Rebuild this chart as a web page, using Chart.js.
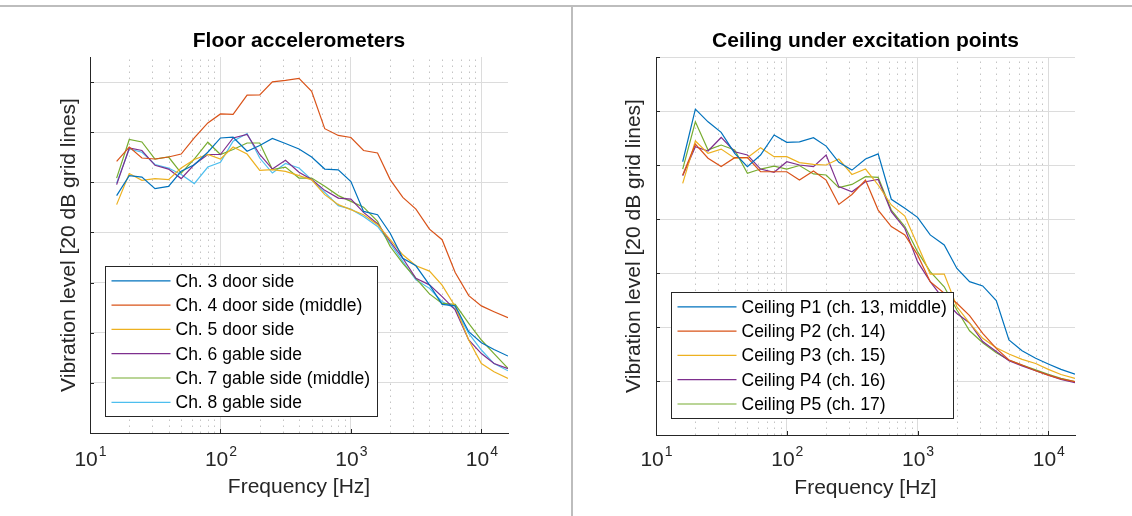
<!DOCTYPE html>
<html>
<head>
<meta charset="utf-8">
<script src="https://cdn.jsdelivr.net/npm/chart.js@4.4.1/dist/chart.umd.min.js"></script>
<style>
  body { margin: 0; background: #fff; }
  #page { position: relative; width: 1132px; height: 516px; overflow: hidden; background: #fff; }
  canvas { position: absolute; top: 0; }
  #floorChart { left: 0; }
  #ceilingChart { left: 573px; }
  .rule { position: absolute; background: #bdbdbd; }
</style>
</head>
<body>
<div id="page">
  <div class="rule" style="left:0;top:5px;width:1132px;height:2px"></div>
  <div class="rule" style="left:571px;top:5px;width:2px;height:511px"></div>
  <canvas id="floorChart" width="571" height="516"></canvas>
  <canvas id="ceilingChart" width="559" height="516"></canvas>
</div>
<script>
const FONT = "'Liberation Sans', Arial, Helvetica, sans-serif";
const AXIS_COLOR = '#262626';
const COLORS = ['#0072BD', '#D95319', '#EDB120', '#7E2F8E', '#77AC30', '#4DBEEE'];

// third-octave band centre frequencies [Hz]
const freqs = [16, 20, 25, 31.5, 40, 50, 63, 80, 100, 125, 160, 200, 250, 315, 400, 500,
    630, 800, 1000, 1250, 1600, 2000, 2500, 3150, 4000, 5000, 6300, 8000, 10000, 12500, 16000];
const decades = [10, 100, 1000, 10000];
const decadeExp = ['1', '2', '3', '4'];
const minorFreqs = [20, 30, 40, 50, 60, 70, 80, 90, 200, 300, 400, 500, 600, 700, 800, 900,
    2000, 3000, 4000, 5000, 6000, 7000, 8000, 9000];

// floor accelerometers, level in dB (relative, 20 dB per grid line)
const floorLabels = ['Ch. 3 door side', 'Ch. 4 door side (middle)', 'Ch. 5 door side',
    'Ch. 6 gable side', 'Ch. 7 gable side (middle)', 'Ch. 8 gable side'];
const floorCh3 = [94.7, 102.7, 102.1, 97.5, 98.4, 104.4, 107, 112, 117.7, 118, 112.4, 114.7, 117.5, 115.5, 113.3, 110.1,
    105.3, 105, 100.3, 88.4, 87.1, 79.7, 69.7, 66.7, 59.1, 51.3, 50.7, 40.4, 36, 33.3, 30.7];
const floorCh4 = [108.4, 114.1, 109.7, 109.3, 110.1, 111.3, 117.7, 123.7, 127.3, 127.1, 134.8, 134.9, 140.1, 140.7, 141.5, 136.3,
    121.4, 118.7, 117.9, 112.7, 111.7, 101.1, 94, 89.3, 81.3, 77.1, 64, 54.8, 50.7, 48.4, 46];
const floorCh5 = [91.1, 103.5, 100.8, 101.5, 101.1, 105.7, 109.1, 111.1, 109.3, 114.1, 111.3, 104.8, 105.1, 104.4, 102.7, 101,
    95.1, 91.1, 89.1, 87.1, 83.1, 77.1, 71.1, 66.7, 64.6, 59, 50.5, 37.1, 27.7, 24.4, 21.8];
const floorCh6 = [99.1, 113.7, 112.7, 106.8, 105.3, 101.5, 107.1, 111.1, 111.1, 117.7, 119.1, 111.1, 105.3, 108.8, 104, 101.1,
    96.8, 93.7, 93.3, 88, 83.5, 76.4, 69.7, 61.7, 59.1, 54.4, 49.1, 37.1, 31.7, 27.7, 25.7];
const floorCh7 = [101.7, 117.1, 116.1, 109.3, 110.1, 103.7, 109.3, 116, 111.1, 113.1, 115.7, 115.7, 105.1, 106.1, 101.7, 101.7,
    98.4, 94.7, 92.4, 90.1, 84.4, 74.4, 67.7, 61.7, 55.5, 51.7, 51.3, 43.7, 37.1, 31.7, 25.8];
const floorCh8 = [99.7, 113.3, 112, 107.1, 105.7, 103.1, 99.5, 106.1, 108, 116.4, 119.5, 109.7, 103.7, 107.5, 105.7, 101.1,
    96, 90.7, 89.3, 86.4, 82.4, 75.7, 68.4, 61.1, 57.7, 52.4, 49.7, 39.7, 33.1, 27.7, 24.8];

// ceiling under the excitation points
const ceilingLabels = ['Ceiling P1 (ch. 13, middle)', 'Ceiling P2 (ch. 14)', 'Ceiling P3 (ch. 15)',
    'Ceiling P4 (ch. 16)', 'Ceiling P5 (ch. 17)'];
const ceilP1 = [101.2, 120.7, 116, 112.1, 104.3, 99.4, 103.7, 111.1, 108.4, 108.6, 110.1, 107, 101, 98.1, 102.2, 104.1,
    87.3, 84, 80.6, 74.1, 70.4, 61.7, 56.8, 55.2, 49.8, 35.2, 31.2, 28.4, 26.3, 24.3, 22.5];
const ceilP2 = [96.3, 107.7, 102.5, 99.4, 102.7, 102.7, 97.5, 97.5, 97.5, 94.4, 97.8, 94.4, 85.4, 89.1, 94.4, 83.3,
    77.2, 74.1, 66.7, 56.8, 52.5, 48.8, 44.2, 37.6, 32.1, 27.8, 25.9, 23.8, 22.2, 20.8, 19.8];
const ceilP3 = [93.2, 108.9, 104.3, 105.9, 102.5, 102.7, 106.4, 103.1, 103.1, 100.9, 100.2, 100, 102.2, 96.5, 98.5, 92.6,
    85.2, 81.1, 70.4, 59.6, 59.6, 47.5, 41.4, 35.8, 32.3, 30, 28, 26.5, 24.3, 22.4, 21];
const ceilP4 = [96, 106.8, 105.2, 110.2, 104.9, 103.7, 98.5, 97.3, 101.2, 100, 99.4, 103.7, 92, 90.1, 93.8, 94.7,
    82.7, 76.5, 64.2, 56.8, 50, 45, 41.5, 34.6, 30.9, 27.5, 25.6, 23.8, 22.2, 20.6, 19.4];
const ceilP5 = [98.5, 116, 105.6, 107.4, 105.6, 96.9, 98.5, 99.6, 98.5, 99.8, 96.7, 96.3, 91.6, 92.8, 95.7, 95.4,
    83.3, 77.2, 67.9, 60.5, 54.9, 46.3, 38.6, 34.2, 30.5, 27.8, 25.9, 24.1, 22.5, 21, 19.8];

function makeDatasets(labels, series) {
    return series.map((vals, i) => ({
        label: labels[i],
        data: freqs.map((f, k) => ({ x: f, y: vals[k] })),
        borderColor: COLORS[i],
        backgroundColor: COLORS[i],
        borderWidth: 1.2,
        pointRadius: 0,
        tension: 0,
        fill: false
    }));
}

// MATLAB-like extras: dotted minor grid, inward ticks, 10^n labels, boxed legend
const matlabAxes = {
    id: 'matlabAxes',
    beforeDatasetsDraw(chart) {
        const { ctx, chartArea: a, scales: { x } } = chart;
        ctx.save();
        ctx.strokeStyle = '#c4c4c4';
        ctx.lineWidth = 1;
        ctx.setLineDash([1.5, 4.5]);
        minorFreqs.forEach(f => {
            const px = Math.round(x.getPixelForValue(f)) + 0.5;
            ctx.beginPath();
            ctx.moveTo(px, a.bottom);
            ctx.lineTo(px, a.top);
            ctx.stroke();
        });
        ctx.restore();
    },
    afterDraw(chart, args, opts) {
        const { ctx, chartArea: a, scales: { x, y } } = chart;
        ctx.save();

        // ticks pointing into the axes
        ctx.strokeStyle = AXIS_COLOR;
        ctx.lineWidth = 1;
        y.ticks.forEach(t => {
            const py = Math.round(y.getPixelForValue(t.value)) + 0.5;
            ctx.beginPath();
            ctx.moveTo(a.left, py);
            ctx.lineTo(a.left + 4, py);
            ctx.stroke();
        });
        decades.forEach(v => {
            const px = Math.round(x.getPixelForValue(v)) + 0.5;
            ctx.beginPath();
            ctx.moveTo(px, a.bottom);
            ctx.lineTo(px, a.bottom - 4);
            ctx.stroke();
        });

        // decade labels 10^n
        ctx.fillStyle = AXIS_COLOR;
        ctx.textBaseline = 'alphabetic';
        ctx.textAlign = 'left';
        decades.forEach((v, i) => {
            const px = x.getPixelForValue(v);
            ctx.font = `21px ${FONT}`;
            const wBase = ctx.measureText('10').width;
            ctx.font = `14px ${FONT}`;
            const wExp = ctx.measureText(decadeExp[i]).width;
            const start = px - (wBase + wExp) / 2;
            ctx.font = `21px ${FONT}`;
            ctx.fillText('10', start, 466);
            ctx.font = `14px ${FONT}`;
            ctx.fillText(decadeExp[i], start + wBase + 1, 456);
        });

        // legend box in the lower left corner
        const items = chart.data.datasets;
        ctx.font = `17.5px ${FONT}`;
        const textW = Math.max(...items.map(d => ctx.measureText(d.label).width));
        const rowH = 24.3, pad = 14.3;
        const w = Math.round(6 + 59 + 5 + textW + 7);
        const h = Math.round((items.length - 1) * rowH + 2 * pad);
        const left = Math.round(a.left + 14.5) + 0.5;
        const top = Math.round(a.bottom - opts.legendBottom - h) + 0.5;
        ctx.fillStyle = '#fff';
        ctx.fillRect(left, top, w, h);
        ctx.strokeStyle = AXIS_COLOR;
        ctx.lineWidth = 1;
        ctx.strokeRect(left, top, w, h);
        ctx.textBaseline = 'middle';
        items.forEach((d, i) => {
            const cy = top + pad + i * rowH;
            ctx.strokeStyle = d.borderColor;
            ctx.lineWidth = 1.2;
            ctx.beginPath();
            ctx.moveTo(left + 6, cy);
            ctx.lineTo(left + 65, cy);
            ctx.stroke();
            ctx.fillStyle = '#000';
            ctx.fillText(d.label, left + 70, cy + 1);
        });
        ctx.restore();
    }
};

function panelOptions(cfg) {
    return {
        responsive: false,
        animation: false,
        layout: { padding: { top: 0, right: cfg.padRight, bottom: 0, left: 0 } },
        plugins: {
            legend: { display: false },
            tooltip: { enabled: false },
            title: {
                display: true,
                text: cfg.title,
                fullSize: false,
                color: '#000',
                font: { family: FONT, size: 21, weight: 'bold', lineHeight: 1.2 },
                padding: { top: 28.4, bottom: cfg.titleBottom }
            },
            matlabAxes: { legendBottom: cfg.legendBottom }
        },
        scales: {
            x: {
                type: 'logarithmic',
                min: 10,
                max: 16000,
                afterBuildTicks: s => { s.ticks = decades.map(v => ({ value: v })); },
                afterFit: s => { s.height = cfg.xHeight; },
                ticks: { display: false },
                grid: { color: '#dcdcdc', drawTicks: false },
                border: { color: AXIS_COLOR, width: 1 },
                title: {
                    display: true,
                    text: 'Frequency [Hz]',
                    color: AXIS_COLOR,
                    font: { family: FONT, size: 21, lineHeight: 1.2 },
                    padding: { top: 0, bottom: cfg.xTitlePad }
                }
            },
            y: {
                type: 'linear',
                min: 0,
                max: cfg.yMax,
                afterBuildTicks: s => { s.ticks = cfg.yGrid.map(v => ({ value: v })); },
                afterFit: s => { s.width = cfg.yWidth; },
                ticks: { display: false },
                grid: { color: '#dcdcdc', drawTicks: false },
                border: { color: AXIS_COLOR, width: 1 },
                title: {
                    display: true,
                    text: 'Vibration level [20 dB grid lines]',
                    color: AXIS_COLOR,
                    font: { family: FONT, size: 21, lineHeight: 1.2 },
                    padding: { top: cfg.yTitlePad, bottom: 0 }
                }
            }
        }
    };
}

new Chart(document.getElementById('floorChart'), {
    type: 'line',
    data: {
        datasets: makeDatasets(floorLabels, [floorCh3, floorCh4, floorCh5, floorCh6, floorCh7, floorCh8])
    },
    options: panelOptions({
        title: 'Floor accelerometers',
        titleBottom: 3.4,
        padRight: 63,
        xHeight: 83,
        xTitlePad: 16.4,
        yWidth: 90,
        yTitlePad: 56.8,
        yMax: 150,
        yGrid: [20, 40, 60, 80, 100, 120, 140],
        legendBottom: 17
    }),
    plugins: [matlabAxes]
});

new Chart(document.getElementById('ceilingChart'), {
    type: 'line',
    data: {
        datasets: makeDatasets(ceilingLabels, [ceilP1, ceilP2, ceilP3, ceilP4, ceilP5])
    },
    options: panelOptions({
        title: 'Ceiling under excitation points',
        titleBottom: 3.4,
        padRight: 57,
        xHeight: 81,
        xTitlePad: 14.7,
        yWidth: 83,
        yTitlePad: 48.8,
        yMax: 140,
        yGrid: [20, 40, 60, 80, 100, 120, 140],
        legendBottom: 17.5
    }),
    plugins: [matlabAxes]
});
</script>
</body>
</html>
